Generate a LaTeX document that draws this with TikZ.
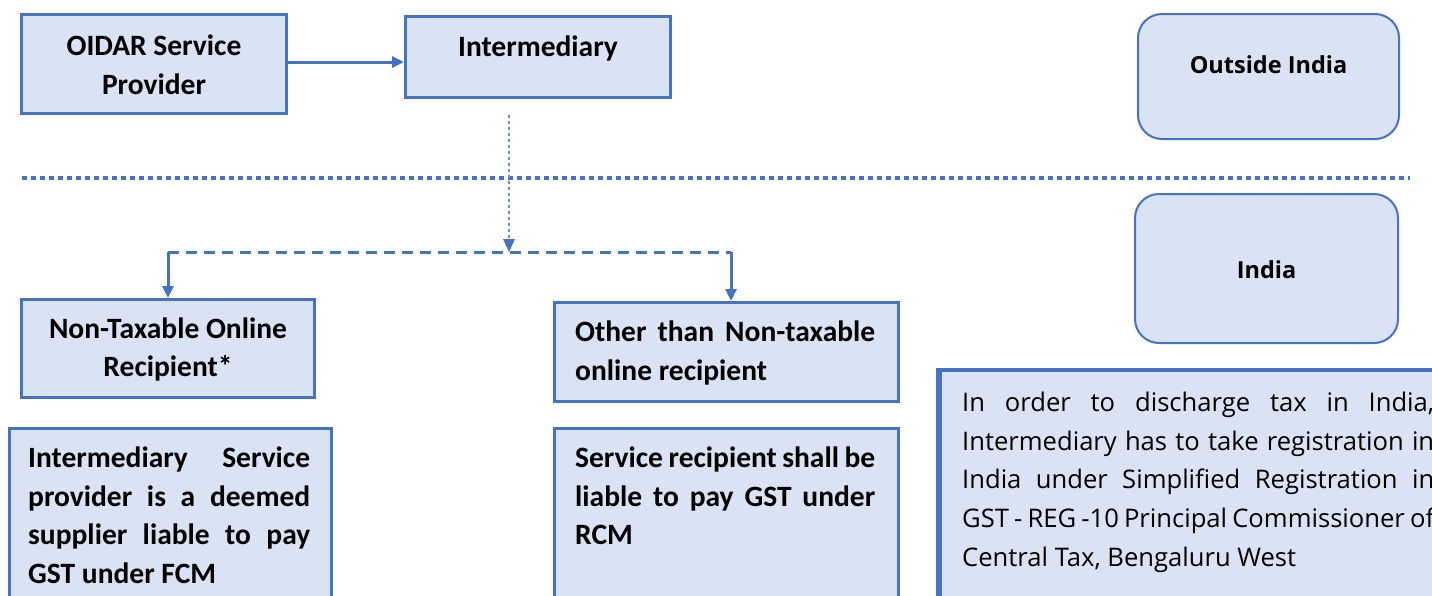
\documentclass[tikz,border=0pt]{standalone}
\usepackage{fontspec}
\setmainfont{Carlito}
\newfontfamily\osans{Open Sans}
\usetikzlibrary{arrows.meta}
\definecolor{bord}{HTML}{4472C4}
\definecolor{fillb}{HTML}{DAE3F3}
\newcommand{\jline}[1]{\makebox[472pt][s]{#1}}
\begin{document}
\begin{tikzpicture}[x=1pt,y=-1pt,
  box/.style={draw=bord, fill=fillb, line width=3pt, inner sep=0pt, anchor=north west},
  rbox/.style={draw=bord, fill=fillb, line width=2pt, rounded corners=24pt, inner sep=0pt, anchor=north west},
  lbl/.style={font=\fontsize{29.5}{38.5}\selectfont\bfseries, align=center, inner sep=0pt},
  jlbl/.style={font=\fontsize{29.5}{38.5}\selectfont\bfseries, align=justify, inner sep=0pt, anchor=north west},
  olbl/.style={font=\osans\fontsize{23.5}{30}\selectfont\bfseries, inner sep=0pt},
  otext/.style={font=\osans\fontsize{25.6}{38.6}\selectfont, align=left, inner sep=0pt, anchor=north west},
  tip/.style={-{Triangle[length=12pt,width=11pt]}},
  conn/.style={draw=bord, line width=3pt, tip},
  dashconn/.style={draw=bord, line width=3pt, dash pattern=on 11pt off 7pt},
  thinconn/.style={draw=bord!80, line width=1.3pt, dash pattern=on 3pt off 3pt},
  sep/.style={draw=bord, line width=4.5pt, dash pattern=on 4.5pt off 4.5pt},
]
\useasboundingbox (0,0) rectangle (1432,595);

% separator
\coordinate (sepL) at (22,178);
\coordinate (sepR) at (1410,178);
\draw[sep] (sepL) -- (sepR);

% top boxes
\node[box, minimum width=265pt, minimum height=99pt] (oidar) at (20,13) {};
\node[lbl] (oidart) at ([yshift=-1pt]oidar.center) {OIDAR Service\\Provider};
\node[box, minimum width=265pt, minimum height=81pt] (inter) at (404,15) {};
\node[lbl] (intert) at ([yshift=-33pt]inter.north) {Intermediary};
\draw[conn] (oidar.east |- 0,62) coordinate (a1) -- (inter.west |- a1);

% region boxes
\node[rbox, minimum width=261pt, minimum height=125pt] (out) at (1137,13) {};
\node[olbl] (outt) at ([yshift=-52pt]out.north) {Outside India};
\node[rbox, minimum width=263pt, minimum height=149pt] (ind) at (1134,193) {};
\node[olbl] (indt) at ([yshift=-77pt]ind.north) {India};

% second row boxes
\node[box, minimum width=293pt, minimum height=98pt] (ntor) at (20,298) {};
\node[lbl] (ntort) at ([yshift=-1pt]ntor.center) {Non-Taxable Online\\Recipient*};
\node[box, minimum width=344pt, minimum height=99pt] (other) at (553,301) {};
\node[jlbl, text width=300pt, anchor=west] (othert) at ([xshift=22pt,yshift=-1pt]other.west) {Other than Non-taxable\linebreak online recipient};

% branch connectors
\coordinate (br) at (509,252);
\coordinate (brL) at (ntor.north |- br);
\coordinate (brR) at (731,252);
\draw[thinconn] ([yshift=-16pt]inter.south -| br) -- (br);
\fill[bord] (br) -- ++(-6,-13) -- ++(12,0) -- cycle;
\draw[dashconn] (brL) -- (brR);
\draw[conn] (brL) -- (ntor.north);
\draw[conn] (brR) -- (brR |- other.north);

% third row boxes
\node[box, minimum width=322pt, minimum height=200pt] (fcm) at (8,427) {};
\node[jlbl, text width=282pt] (fcmt) at (28,447) {Intermediary Service\linebreak provider is a deemed\linebreak supplier liable to pay\linebreak GST under FCM};
\node[box, minimum width=344pt, minimum height=200pt] (rcm) at (553,427) {};
\node[jlbl, text width=300pt] (rcmt) at (575,447) {Service recipient shall be\linebreak liable to pay GST under\linebreak RCM};

% registration box
\coordinate (regNW) at (939,370);
\coordinate (regSE) at (1450,620);
\filldraw[draw=bord, fill=fillb, line width=4pt] (regNW) rectangle (regSE);
\draw[bord, line width=6pt] ([yshift=2pt]regNW) -- (regNW |- regSE);
\node[otext] (regt) at (962,392) {\jline{In order to discharge tax in India,}\\\jline{Intermediary has to take registration in}\\\jline{India under Simplified Registration in}\\\jline{GST - REG -10 Principal Commissioner of}\\Central Tax, Bengaluru West};
\end{tikzpicture}
\end{document}
